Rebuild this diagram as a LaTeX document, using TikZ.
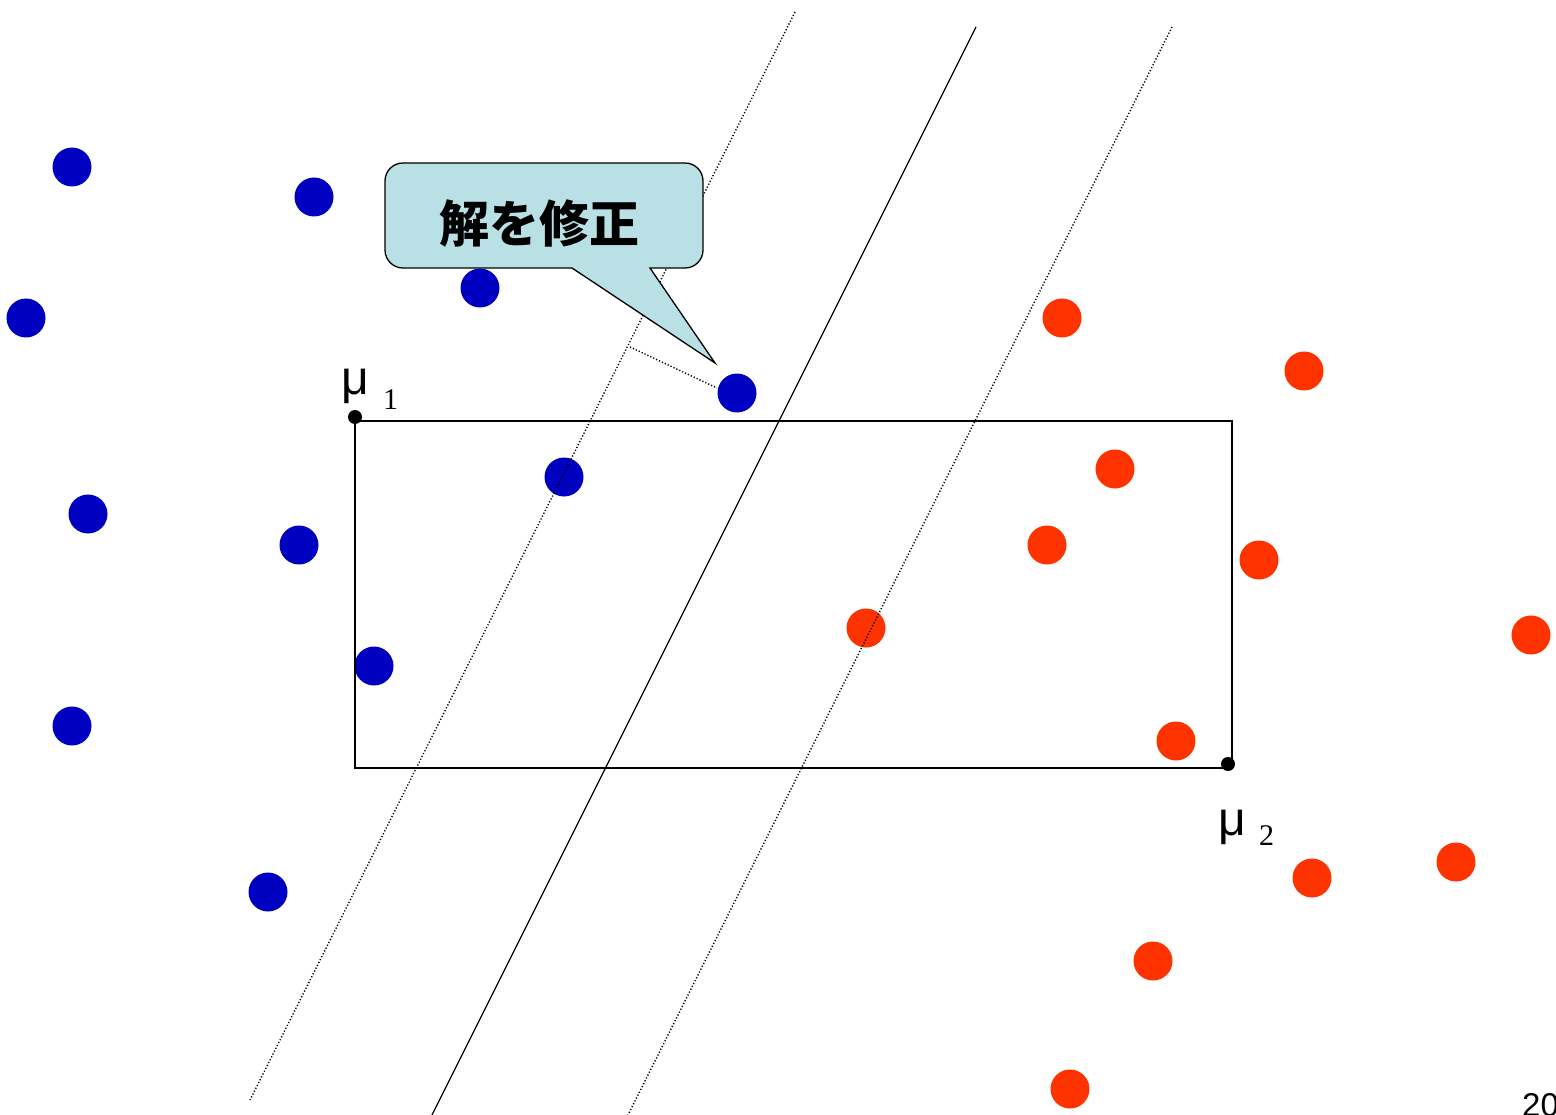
\documentclass[tikz,border=0pt]{standalone}
\usepackage{fontspec}
\setmainfont{Liberation Serif}
\setsansfont{Liberation Sans}
\newfontfamily\cjk{Noto Sans CJK JP}
\definecolor{blueDot}{RGB}{0,0,192}
\definecolor{redDot}{RGB}{255,51,0}
\definecolor{calloutFill}{RGB}{185,224,228}
\tikzset{
  bdot/.style={circle,fill=blueDot,inner sep=0pt,minimum size=39pt},
  rdot/.style={circle,fill=redDot,inner sep=0pt,minimum size=39pt},
  mdot/.style={circle,fill=black,inner sep=0pt,minimum size=14pt},
  dotline/.style={line width=1.4pt,dash pattern=on 1.2pt off 2pt},
  solidline/.style={line width=1.3pt},
}
\begin{document}
\begin{tikzpicture}[x=1pt,y=-1pt]
\clip (0,0) rectangle (1556,1115);
\fill[white] (0,0) rectangle (1556,1115);
% blue points
\node[bdot] (b1) at (72,167) {};
\node[bdot] (b2) at (314,197) {};
\node[bdot] (b3) at (26,318) {};
\node[bdot] (b4) at (480,288) {};
\node[bdot] (b6) at (564,477) {};
\node[bdot] (b7) at (88,514) {};
\node[bdot] (b8) at (299,545) {};
\node[bdot] (b9) at (374,666) {};
\node[bdot] (b10) at (72,726) {};
\node[bdot] (b11) at (268,892) {};
% red points
\node[rdot] (r1) at (1062,318) {};
\node[rdot] (r2) at (1304,371) {};
\node[rdot] (r3) at (1115,469) {};
\node[rdot] (r4) at (1047,545) {};
\node[rdot] (r5) at (1259,560) {};
\node[rdot] (r6) at (866,628) {};
\node[rdot] (r7) at (1531,635) {};
\node[rdot] (r8) at (1176,741) {};
\node[rdot] (r9) at (1456,862) {};
\node[rdot] (r10) at (1312,878) {};
\node[rdot] (r11) at (1153,961) {};
\node[rdot] (r12) at (1070,1089) {};
% rectangle between means
\coordinate (m1) at (355,421);
\coordinate (m2) at (1232,768);
\draw[solidline] (m1) rectangle (m2);
\node[mdot] (mu1) at (355,417) {};
\node[mdot] (mu2) at (1228,764) {};
\node[anchor=base west,font=\sffamily\fontsize{48}{48}\selectfont,inner sep=0pt] (l1) at (341,395) {μ};
\node[anchor=base west,font=\fontsize{30}{30}\selectfont,inner sep=0pt] (s1) at (383,409) {1};
\node[anchor=base west,font=\sffamily\fontsize{48}{48}\selectfont,inner sep=0pt] (l2) at (1218,835) {μ};
\node[anchor=base west,font=\fontsize{30}{30}\selectfont,inner sep=0pt] (s2) at (1259,845) {2};
% separating lines
\coordinate (d1a) at (795,12);   \coordinate (d1b) at (250,1100);
\coordinate (sa) at (976,27);    \coordinate (sb) at (432,1115);
\coordinate (d2a) at (1172,27);  \coordinate (d2b) at (628,1115);
\draw[dotline] (d1a) -- (d1b);
\draw[solidline] (sa) -- (sb);
\draw[dotline] (d2a) -- (d2b);
% perpendicular distance
\coordinate (foot) at (630,347);
\draw[dotline] (foot) -- (717,388);
\node[bdot] (b5) at (737,393) {};
% callout
\coordinate (tip) at (715,363);
\draw[line width=1.3pt,fill=calloutFill]
  (572,268) -- (tip) -- (650,268) [rounded corners=18pt] -- (703,268) -- (703,163) -- (385,163) -- (385,268) [sharp corners] -- (572,268) -- cycle;
\node[font=\cjk\bfseries\fontsize{50}{50}\selectfont,inner sep=0pt] (ct) at (539,224) {解を修正};
% page number
\node[anchor=base west,font=\sffamily\fontsize{33}{33}\selectfont,inner sep=0pt] (pg) at (1522,1116) {20};
\end{tikzpicture}
\end{document}
